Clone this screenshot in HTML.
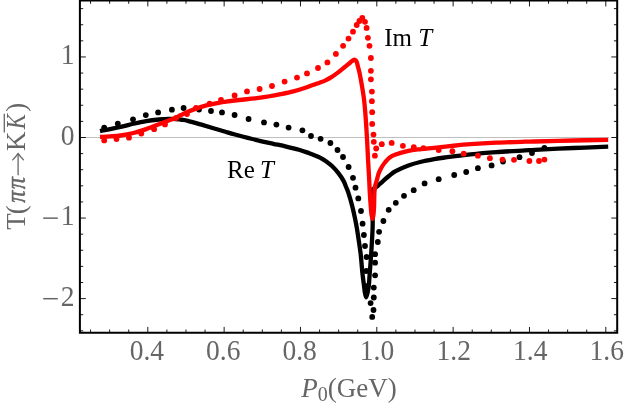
<!DOCTYPE html>
<html><head><meta charset="utf-8"><title>T(pipi->KKbar)</title>
<style>
html,body{margin:0;padding:0;background:#fff;}
body{width:625px;height:406px;overflow:hidden;font-family:"Liberation Serif",serif;}
svg{display:block;position:absolute;left:0;top:0;will-change:transform;opacity:0.9999;}
text{font-family:"Liberation Serif",serif;}
.tl text{font-size:27.5px;fill:#666666;}
.al{font-size:27px;fill:#666666;}
.cl{font-size:25px;fill:#000;}
</style></head><body>
<svg width="625" height="406" viewBox="0 0 625 406">
<rect x="0" y="0" width="625" height="406" fill="#fff"/>
<!-- zero axis -->
<line x1="79.9" y1="137.50" x2="609" y2="137.50" stroke="#c0c0c0" stroke-width="1"/>
<!-- black series -->
<g fill="#000"><circle cx="104.2" cy="127.6" r="2.90"/><circle cx="117.8" cy="123.6" r="2.90"/><circle cx="133.0" cy="119.3" r="2.90"/><circle cx="145.8" cy="115.1" r="2.90"/><circle cx="158.1" cy="112.4" r="2.90"/><circle cx="171.9" cy="109.7" r="2.90"/><circle cx="183.6" cy="108.0" r="2.90"/><circle cx="199.0" cy="109.6" r="2.90"/><circle cx="211.0" cy="111.0" r="2.90"/><circle cx="222.0" cy="112.4" r="2.90"/><circle cx="234.6" cy="115.0" r="2.90"/><circle cx="248.6" cy="119.0" r="2.90"/><circle cx="264.0" cy="122.4" r="2.90"/><circle cx="276.4" cy="124.6" r="2.90"/><circle cx="288.6" cy="127.6" r="2.90"/><circle cx="302.4" cy="130.3" r="2.90"/><circle cx="311.0" cy="136.0" r="2.90"/><circle cx="320.6" cy="138.8" r="2.90"/><circle cx="330.4" cy="143.0" r="2.90"/><circle cx="337.5" cy="150.0" r="2.90"/><circle cx="343.0" cy="157.0" r="2.90"/><circle cx="348.6" cy="167.0" r="2.90"/><circle cx="353.0" cy="177.8" r="2.90"/><circle cx="355.5" cy="187.7" r="2.90"/><circle cx="358.3" cy="198.4" r="2.90"/><circle cx="361.0" cy="211.0" r="2.90"/><circle cx="362.6" cy="223.7" r="2.90"/><circle cx="363.9" cy="235.0" r="2.90"/><circle cx="365.0" cy="246.0" r="2.90"/><circle cx="366.6" cy="257.0" r="2.90"/><circle cx="366.3" cy="271.0" r="2.90"/><circle cx="367.5" cy="286.0" r="2.90"/><circle cx="372.2" cy="316.9" r="2.90"/><circle cx="373.5" cy="310.0" r="2.90"/><circle cx="370.6" cy="303.1" r="2.90"/><circle cx="373.8" cy="297.5" r="2.90"/><circle cx="373.8" cy="287.6" r="2.90"/><circle cx="375.1" cy="275.3" r="2.90"/><circle cx="375.1" cy="262.7" r="2.90"/><circle cx="375.1" cy="254.2" r="2.90"/><circle cx="377.8" cy="242.0" r="2.90"/><circle cx="379.1" cy="231.8" r="2.90"/><circle cx="383.4" cy="221.0" r="2.90"/><circle cx="388.7" cy="209.8" r="2.90"/><circle cx="395.8" cy="202.8" r="2.90"/><circle cx="404.0" cy="195.8" r="2.90"/><circle cx="413.7" cy="190.2" r="2.90"/><circle cx="424.6" cy="183.4" r="2.90"/><circle cx="438.7" cy="179.2" r="2.90"/><circle cx="454.2" cy="175.0" r="2.90"/><circle cx="466.2" cy="172.0" r="2.90"/><circle cx="477.9" cy="168.2" r="2.90"/><circle cx="491.6" cy="165.4" r="2.90"/><circle cx="503.0" cy="161.5" r="2.90"/><circle cx="519.5" cy="157.2" r="2.90"/><circle cx="532.0" cy="153.0" r="2.90"/><circle cx="544.4" cy="148.0" r="2.90"/></g>
<path fill="none" stroke-width="4.3" stroke-linejoin="round" stroke="#000" d="M100.00 131.20 C103.43 130.48 115.03 128.14 120.60 126.90 C126.17 125.66 129.13 124.72 133.40 123.75 C137.67 122.78 141.93 121.81 146.20 121.10 C150.47 120.39 155.17 119.87 159.00 119.50 C162.83 119.13 166.37 118.98 169.20 118.90 C172.03 118.82 173.97 118.86 176.00 119.00 C178.03 119.14 179.43 119.45 181.40 119.75 C183.37 120.05 184.60 120.02 187.80 120.80 C191.00 121.58 196.33 123.17 200.60 124.40 C204.87 125.63 209.13 126.93 213.40 128.20 C217.67 129.47 222.60 130.95 226.20 132.00 C229.80 133.05 231.40 133.53 235.00 134.50 C238.60 135.47 243.53 136.76 247.80 137.85 C252.07 138.94 256.33 140.06 260.60 141.05 C264.87 142.04 269.13 142.88 273.40 143.80 C277.67 144.72 281.93 145.55 286.20 146.55 C290.47 147.55 295.17 148.69 299.00 149.80 C302.83 150.91 306.53 152.27 309.20 153.20 C311.87 154.13 313.20 154.67 315.00 155.40 C316.80 156.13 318.23 156.68 320.00 157.60 C321.77 158.52 323.60 159.50 325.60 160.90 C327.60 162.30 329.87 163.97 332.00 166.00 C334.13 168.03 336.50 170.67 338.40 173.10 C340.30 175.53 342.12 178.28 343.40 180.60 C344.68 182.92 345.27 184.97 346.10 187.00 C346.93 189.03 347.40 189.70 348.40 192.80 C349.40 195.90 351.00 201.33 352.10 205.60 C353.20 209.87 354.17 214.40 355.00 218.40 C355.83 222.40 356.17 223.73 357.10 229.60 C358.03 235.47 359.73 246.53 360.60 253.60 C361.47 260.67 361.75 266.80 362.30 272.00 C362.85 277.20 363.48 281.47 363.90 284.80 C364.32 288.13 364.43 289.92 364.80 292.00 C365.17 294.08 365.63 297.22 366.10 297.30 C366.57 297.38 367.13 294.58 367.60 292.50 C368.07 290.42 368.57 287.72 368.90 284.80 C369.23 281.88 369.22 280.20 369.60 275.00 C369.98 269.80 370.70 261.43 371.20 253.60 C371.70 245.77 372.37 234.43 372.60 228.00 C372.83 221.57 372.63 219.67 372.60 215.00 C372.57 210.33 372.43 204.25 372.40 200.00 C372.37 195.75 372.40 191.25 372.40 189.50 C372.77 189.25 373.72 188.58 374.60 188.00 C375.48 187.42 376.83 186.67 377.70 186.00 C378.57 185.33 378.95 184.78 379.80 184.00 C380.65 183.22 381.23 182.67 382.80 181.30 C384.37 179.93 387.07 177.48 389.20 175.80 C391.33 174.12 392.40 172.92 395.60 171.20 C398.80 169.48 404.13 167.07 408.40 165.50 C412.67 163.93 416.93 162.80 421.20 161.75 C425.47 160.70 430.03 159.91 434.00 159.20 C437.97 158.49 438.90 158.32 445.00 157.50 C451.10 156.68 462.07 155.20 470.60 154.30 C479.13 153.40 487.13 152.75 496.20 152.10 C505.27 151.45 518.53 150.78 525.00 150.40 C531.47 150.02 526.93 150.20 535.00 149.80 C543.07 149.40 561.20 148.52 573.40 148.00 C585.60 147.48 602.40 146.92 608.20 146.70"/>
<!-- red series -->
<path fill="none" stroke-width="4.3" stroke-linejoin="round" stroke="#ff0000" d="M100.00 136.90 C101.67 136.82 106.57 136.63 110.00 136.40 C113.43 136.17 116.70 136.07 120.60 135.50 C124.50 134.93 129.13 134.07 133.40 133.00 C137.67 131.93 141.93 130.55 146.20 129.10 C150.47 127.65 155.17 125.78 159.00 124.30 C162.83 122.82 166.53 121.22 169.20 120.20 C171.87 119.18 173.03 119.07 175.00 118.20 C176.97 117.33 178.87 116.08 181.00 115.00 C183.13 113.92 184.53 113.07 187.80 111.75 C191.07 110.43 196.33 108.41 200.60 107.10 C204.87 105.79 209.13 104.80 213.40 103.90 C217.67 103.00 221.93 102.35 226.20 101.70 C230.47 101.05 234.20 100.55 239.00 100.00 C243.80 99.45 250.20 98.98 255.00 98.40 C259.80 97.82 263.53 97.20 267.80 96.50 C272.07 95.80 276.33 95.05 280.60 94.20 C284.87 93.35 289.13 92.52 293.40 91.40 C297.67 90.28 301.93 88.92 306.20 87.50 C310.47 86.08 315.87 84.05 319.00 82.90 C322.13 81.75 322.93 81.57 325.00 80.60 C327.07 79.63 329.27 78.43 331.40 77.10 C333.53 75.77 335.67 74.20 337.80 72.60 C339.93 71.00 342.07 69.23 344.20 67.50 C346.33 65.77 349.13 63.38 350.60 62.20 C352.07 61.02 352.30 60.80 353.00 60.40 C353.70 60.00 354.20 59.60 354.80 59.80 C355.40 60.00 356.05 60.37 356.60 61.60 C357.15 62.83 357.58 65.20 358.10 67.20 C358.62 69.20 359.04 70.40 359.70 73.60 C360.36 76.80 361.33 82.13 362.05 86.40 C362.77 90.67 363.44 94.60 364.00 99.20 C364.56 103.80 364.93 108.03 365.40 114.00 C365.87 119.97 366.35 127.23 366.80 135.00 C367.25 142.77 367.70 153.10 368.10 160.60 C368.50 168.10 368.92 174.63 369.20 180.00 C369.48 185.37 369.55 188.53 369.80 192.80 C370.05 197.07 370.42 201.98 370.70 205.60 C370.98 209.22 371.20 212.32 371.50 214.50 C371.80 216.68 372.33 218.00 372.50 218.70 C372.67 218.00 373.23 216.68 373.50 214.50 C373.77 212.32 373.95 209.22 374.10 205.60 C374.25 201.98 374.23 196.03 374.40 192.80 C374.57 189.57 374.68 188.33 375.10 186.20 C375.52 184.07 376.32 182.13 376.90 180.00 C377.48 177.87 377.78 175.57 378.60 173.40 C379.42 171.23 380.68 168.90 381.80 167.00 C382.92 165.10 384.03 163.55 385.30 162.00 C386.57 160.45 387.68 158.93 389.40 157.70 C391.12 156.47 392.43 155.75 395.60 154.60 C398.77 153.45 404.13 151.72 408.40 150.80 C412.67 149.88 416.93 149.60 421.20 149.10 C425.47 148.60 429.20 148.30 434.00 147.80 C438.80 147.30 443.90 146.70 450.00 146.10 C456.10 145.50 462.90 144.77 470.60 144.20 C478.30 143.63 487.13 143.12 496.20 142.70 C505.27 142.28 518.53 141.90 525.00 141.70 C531.47 141.50 526.93 141.70 535.00 141.50 C543.07 141.30 561.20 140.77 573.40 140.50 C585.60 140.23 602.40 140.00 608.20 139.90"/>
<g fill="#ff0000"><circle cx="104.2" cy="140.4" r="2.90"/><circle cx="116.5" cy="139.1" r="2.90"/><circle cx="129.0" cy="137.7" r="2.90"/><circle cx="141.3" cy="133.5" r="2.90"/><circle cx="154.1" cy="129.2" r="2.90"/><circle cx="165.0" cy="124.4" r="2.90"/><circle cx="176.1" cy="118.0" r="2.90"/><circle cx="187.0" cy="114.0" r="2.90"/><circle cx="196.0" cy="108.0" r="2.90"/><circle cx="209.6" cy="103.6" r="2.90"/><circle cx="221.0" cy="100.0" r="2.90"/><circle cx="234.6" cy="95.4" r="2.90"/><circle cx="247.0" cy="91.4" r="2.90"/><circle cx="259.6" cy="89.0" r="2.90"/><circle cx="272.0" cy="86.0" r="2.90"/><circle cx="284.6" cy="81.6" r="2.90"/><circle cx="297.0" cy="77.6" r="2.90"/><circle cx="307.0" cy="73.4" r="2.90"/><circle cx="318.0" cy="68.0" r="2.90"/><circle cx="327.4" cy="62.4" r="2.90"/><circle cx="335.9" cy="53.9" r="2.90"/><circle cx="343.1" cy="45.8" r="2.90"/><circle cx="348.5" cy="38.6" r="2.90"/><circle cx="353.0" cy="31.7" r="2.90"/><circle cx="356.7" cy="25.0" r="2.90"/><circle cx="359.4" cy="21.0" r="2.90"/><circle cx="362.3" cy="17.8" r="2.90"/><circle cx="365.0" cy="21.8" r="2.90"/><circle cx="366.6" cy="27.9" r="2.90"/><circle cx="367.9" cy="37.8" r="2.90"/><circle cx="369.5" cy="45.8" r="2.90"/><circle cx="370.9" cy="58.0" r="2.90"/><circle cx="370.9" cy="70.8" r="2.90"/><circle cx="370.9" cy="79.3" r="2.90"/><circle cx="371.9" cy="91.6" r="2.90"/><circle cx="371.9" cy="101.2" r="2.90"/><circle cx="372.2" cy="112.2" r="2.90"/><circle cx="372.2" cy="123.9" r="2.90"/><circle cx="373.5" cy="134.6" r="2.90"/><circle cx="373.8" cy="141.8" r="2.90"/><circle cx="376.2" cy="148.5" r="2.90"/><circle cx="374.9" cy="155.7" r="2.90"/><circle cx="381.8" cy="144.2" r="2.90"/><circle cx="391.7" cy="142.9" r="2.90"/><circle cx="402.9" cy="145.8" r="2.90"/><circle cx="413.8" cy="147.1" r="2.90"/><circle cx="423.4" cy="148.2" r="2.90"/><circle cx="438.7" cy="150.0" r="2.90"/><circle cx="452.4" cy="151.2" r="2.90"/><circle cx="463.7" cy="153.7" r="2.90"/><circle cx="477.9" cy="155.7" r="2.90"/><circle cx="489.9" cy="158.2" r="2.90"/><circle cx="502.5" cy="159.6" r="2.90"/><circle cx="514.0" cy="159.8" r="2.90"/><circle cx="529.4" cy="161.0" r="2.90"/><circle cx="539.0" cy="161.0" r="2.90"/><circle cx="544.4" cy="159.6" r="2.90"/></g>
<!-- frame -->
<path d="M79.9 0.5H617.2V332.8H79.9Z" fill="none" stroke="#000" stroke-width="2.0" stroke-linejoin="miter"/>
<path d="M90.55 332.80L90.55 329.50 M90.55 0.50L90.55 3.80 M109.63 332.80L109.63 329.50 M109.63 0.50L109.63 3.80 M128.72 332.80L128.72 329.50 M128.72 0.50L128.72 3.80 M147.80 332.80L147.80 326.90 M147.80 0.50L147.80 6.40 M166.88 332.80L166.88 329.50 M166.88 0.50L166.88 3.80 M185.97 332.80L185.97 329.50 M185.97 0.50L185.97 3.80 M205.05 332.80L205.05 329.50 M205.05 0.50L205.05 3.80 M224.13 332.80L224.13 326.90 M224.13 0.50L224.13 6.40 M243.22 332.80L243.22 329.50 M243.22 0.50L243.22 3.80 M262.30 332.80L262.30 329.50 M262.30 0.50L262.30 3.80 M281.38 332.80L281.38 329.50 M281.38 0.50L281.38 3.80 M300.47 332.80L300.47 326.90 M300.47 0.50L300.47 6.40 M319.55 332.80L319.55 329.50 M319.55 0.50L319.55 3.80 M338.63 332.80L338.63 329.50 M338.63 0.50L338.63 3.80 M357.72 332.80L357.72 329.50 M357.72 0.50L357.72 3.80 M376.80 332.80L376.80 326.90 M376.80 0.50L376.80 6.40 M395.89 332.80L395.89 329.50 M395.89 0.50L395.89 3.80 M414.97 332.80L414.97 329.50 M414.97 0.50L414.97 3.80 M434.05 332.80L434.05 329.50 M434.05 0.50L434.05 3.80 M453.14 332.80L453.14 326.90 M453.14 0.50L453.14 6.40 M472.22 332.80L472.22 329.50 M472.22 0.50L472.22 3.80 M491.30 332.80L491.30 329.50 M491.30 0.50L491.30 3.80 M510.39 332.80L510.39 329.50 M510.39 0.50L510.39 3.80 M529.47 332.80L529.47 326.90 M529.47 0.50L529.47 6.40 M548.55 332.80L548.55 329.50 M548.55 0.50L548.55 3.80 M567.64 332.80L567.64 329.50 M567.64 0.50L567.64 3.80 M586.72 332.80L586.72 329.50 M586.72 0.50L586.72 3.80 M605.80 332.80L605.80 326.90 M605.80 0.50L605.80 6.40 M79.90 330.82L83.20 330.82 M617.20 330.82L613.90 330.82 M79.90 314.71L83.20 314.71 M617.20 314.71L613.90 314.71 M79.90 298.60L85.80 298.60 M617.20 298.60L611.30 298.60 M79.90 282.49L83.20 282.49 M617.20 282.49L613.90 282.49 M79.90 266.38L83.20 266.38 M617.20 266.38L613.90 266.38 M79.90 250.27L83.20 250.27 M617.20 250.27L613.90 250.27 M79.90 234.16L83.20 234.16 M617.20 234.16L613.90 234.16 M79.90 218.05L85.80 218.05 M617.20 218.05L611.30 218.05 M79.90 201.94L83.20 201.94 M617.20 201.94L613.90 201.94 M79.90 185.83L83.20 185.83 M617.20 185.83L613.90 185.83 M79.90 169.72L83.20 169.72 M617.20 169.72L613.90 169.72 M79.90 153.61L83.20 153.61 M617.20 153.61L613.90 153.61 M79.90 137.50L85.80 137.50 M617.20 137.50L611.30 137.50 M79.90 121.39L83.20 121.39 M617.20 121.39L613.90 121.39 M79.90 105.28L83.20 105.28 M617.20 105.28L613.90 105.28 M79.90 89.17L83.20 89.17 M617.20 89.17L613.90 89.17 M79.90 73.06L83.20 73.06 M617.20 73.06L613.90 73.06 M79.90 56.95L85.80 56.95 M617.20 56.95L611.30 56.95 M79.90 40.84L83.20 40.84 M617.20 40.84L613.90 40.84 M79.90 24.73L83.20 24.73 M617.20 24.73L613.90 24.73 M79.90 8.62L83.20 8.62 M617.20 8.62L613.90 8.62" stroke="#000" stroke-width="0.9" fill="none"/>
<!-- tick labels -->
<g class="tl"><text transform="translate(146.9 359.6) scale(1 1.040)" text-anchor="middle">0.4</text><text transform="translate(223.2 359.6) scale(1 1.040)" text-anchor="middle">0.6</text><text transform="translate(299.6 359.6) scale(1 1.040)" text-anchor="middle">0.8</text><text transform="translate(377.0 359.6) scale(1 1.040)" text-anchor="middle">1.0</text><text transform="translate(453.8 359.6) scale(1 1.040)" text-anchor="middle">1.2</text><text transform="translate(530.2 359.6) scale(1 1.040)" text-anchor="middle">1.4</text><text transform="translate(606.7 359.6) scale(1 1.040)" text-anchor="middle">1.6</text><text transform="translate(74.5 64.2) scale(1 1.040)" text-anchor="end">1</text><text transform="translate(74.5 144.8) scale(1 1.040)" text-anchor="end">0</text><text transform="translate(74.5 225.4) scale(1 1.040)" text-anchor="end">1</text><text transform="translate(74.5 305.9) scale(1 1.040)" text-anchor="end">2</text><line x1="43.2" x2="57.8" y1="218.15" y2="218.15" stroke="#666666" stroke-width="1.5"/><line x1="43.2" x2="57.8" y1="298.70" y2="298.70" stroke="#666666" stroke-width="1.5"/></g>
<!-- curve labels -->
<text class="cl" x="384.2" y="45.5">Im <tspan font-style="italic">T</tspan></text>
<text class="cl" x="227" y="177.6">Re <tspan font-style="italic" dx="-1">T</tspan></text>
<!-- axis labels -->
<text class="al" x="349" y="396.6" text-anchor="middle"><tspan font-style="italic">P</tspan><tspan font-size="20" dy="4">0</tspan><tspan dy="-4">(GeV)</tspan></text>
<g transform="translate(25.2 229.8) rotate(-90)" class="al">
<text x="0" y="0">T</text>
<text x="15.6" y="0">(</text>
<g font-style="italic" stroke="#666666" stroke-width="0.45" stroke-linejoin="round">
<text transform="translate(27.1 0) scale(0.9 1)">π</text>
<text transform="translate(40.5 0) scale(0.9 1)">π</text>
</g>
<path d="M54.6 -7.1H75.4" stroke="#666666" stroke-width="1.3" fill="none"/>
<path d="M69.9 -12.5Q74.125 -8.45 76.4 -7.1Q74.125 -5.75 69.9 -1.6999999999999993" stroke="#666666" stroke-width="1.3" fill="none" stroke-linecap="round" stroke-linejoin="round"/>
<text x="78.8" y="0">K</text>
<text x="0" y="0" font-style="italic" transform="translate(100.6 0) scale(0.84 1)">K</text>
<text x="118.0" y="0">)</text>
<line x1="97.4" y1="-20.9" x2="116.1" y2="-20.9" stroke="#666666" stroke-width="1.3"/>
</g>
</svg>
</body></html>
